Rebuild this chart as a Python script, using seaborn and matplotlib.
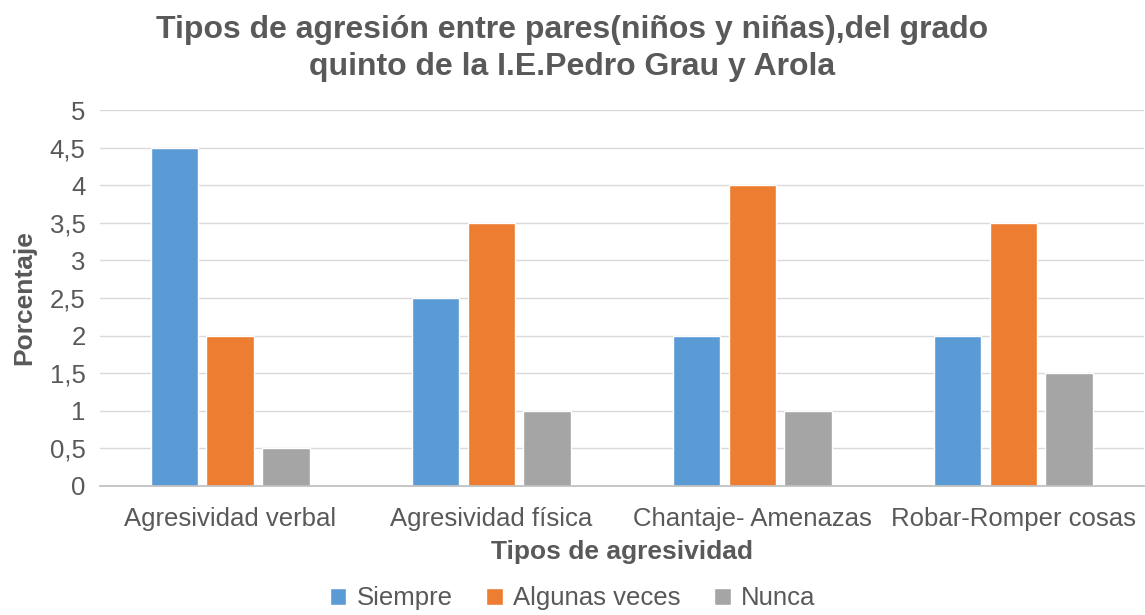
import pandas as pd
import matplotlib
matplotlib.use("Agg")
import matplotlib.pyplot as plt
import seaborn as sns

# data
categorias = ["Agresividad verbal", "Agresividad física", "Chantaje- Amenazas", "Robar-Romper cosas"]
series = ["Siempre", "Algunas veces", "Nunca"]
siempre = [4.5, 2.5, 2.0, 2.0]
algunas_veces = [2.0, 3.5, 4.0, 3.5]
nunca = [0.5, 1.0, 1.0, 1.5]
yticks = [0, 0.5, 1, 1.5, 2, 2.5, 3, 3.5, 4, 4.5, 5]
ytick_labels = ["0", "0,5", "1", "1,5", "2", "2,5", "3", "3,5", "4", "4,5", "5"]

colores = ["#5B9BD5", "#ED7D31", "#A5A5A5"]
gris = "#595959"

df = pd.DataFrame({
    "categoria": categorias * 3,
    "serie": [series[0]] * 4 + [series[1]] * 4 + [series[2]] * 4,
    "valor": siempre + algunas_veces + nunca,
})

sns.set_theme(style="white")
plt.rcParams["font.family"] = ["Liberation Sans", "DejaVu Sans"]

fig = plt.figure(figsize=(11.45, 6.15), dpi=100)
ax = fig.add_axes([0.087, 0.21, 0.912, 0.611])

sns.barplot(data=df, x="categoria", y="valor", hue="serie", order=categorias,
            hue_order=series, palette=colores, width=0.64, gap=0.15,
            saturation=1, ax=ax, legend=True)

ax.set_ylim(0, 5)
ax.set_yticks(yticks)
ax.set_yticklabels(ytick_labels)
ax.set_xlim(-0.5, 3.5)
ax.yaxis.grid(True, color="#D9D9D9", linewidth=1)
ax.set_axisbelow(True)
for s in ["top", "right", "left"]:
    ax.spines[s].set_visible(False)
ax.spines["bottom"].set_color("#BFBFBF")
ax.tick_params(axis="both", length=0, labelsize=18.5, colors=gris)
ax.tick_params(axis="x", pad=15)
ax.tick_params(axis="y", pad=10)

ax.set_xlabel("Tipos de agresividad", fontsize=19, fontweight="bold", color=gris, labelpad=7)
ax.set_ylabel("Porcentaje", fontsize=19, fontweight="bold", color=gris, labelpad=10)

fig.text(0.5, 0.975, "Tipos de agresión entre pares(niños y niñas),del grado\nquinto de la I.E.Pedro Grau y Arola",
         ha="center", va="top", fontsize=23, fontweight="bold", color=gris, linespacing=1.28)

handles, labels = ax.get_legend_handles_labels()
ax.legend_.remove()
fig.legend(handles, labels, loc="lower center", bbox_to_anchor=(0.5, -0.03), ncol=3,
           frameon=False, fontsize=18.5, handlelength=0.65, handleheight=0.65,
           handletextpad=0.4, columnspacing=1.3, labelcolor=gris)

fig.savefig("out.png", dpi=100)
